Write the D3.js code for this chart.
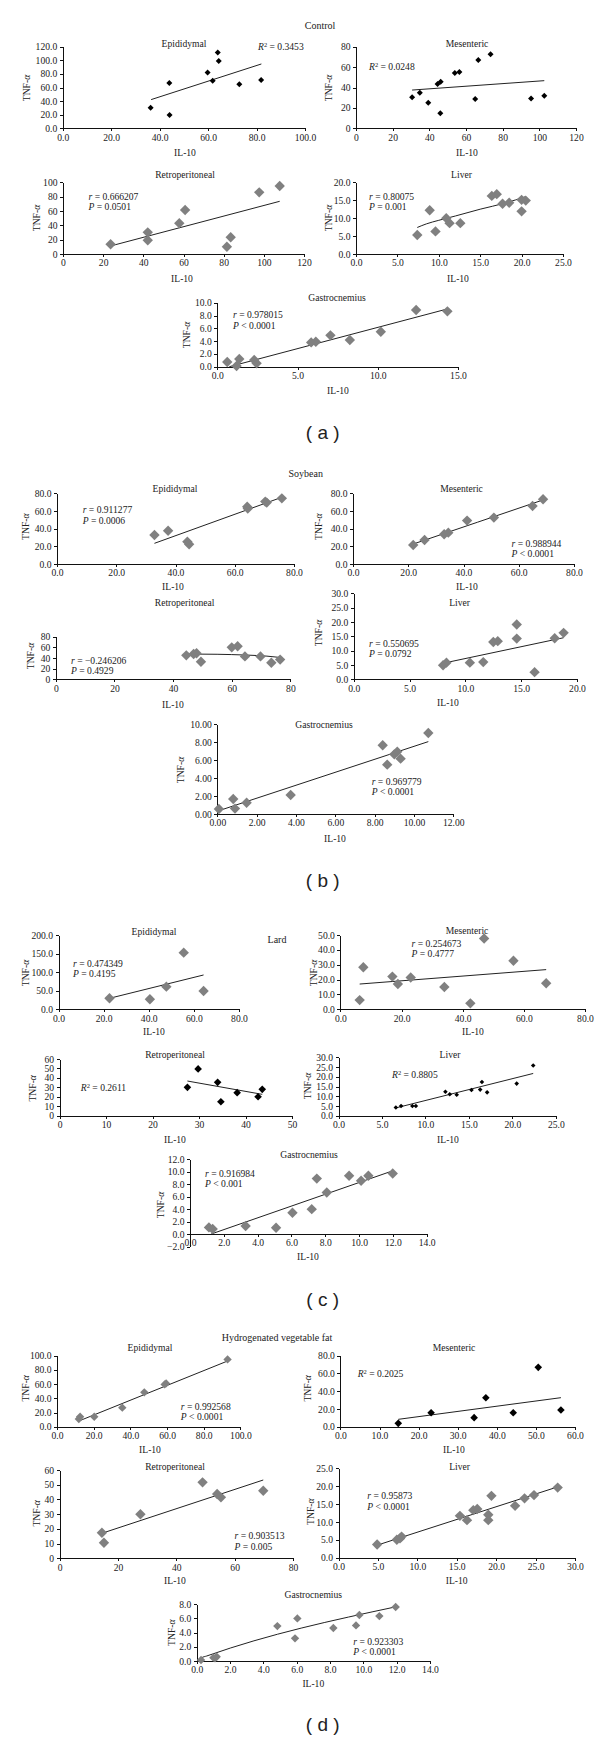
<!DOCTYPE html>
<html><head><meta charset="utf-8">
<script src="https://cdn.jsdelivr.net/npm/d3@7"></script>
<style>
body{margin:0;background:#fff}
svg{display:block}
text{font-family:"Liberation Serif","DejaVu Serif",serif;fill:#222}
</style>
</head><body>
<svg id="c" width="600" height="1741"></svg>
<script>
// ---------- tick label values ----------
const tk100by20 = [0,20,40,60,80,100];
const tk120by20 = [0,20,40,60,80,100,120];
const tk80by20  = [0,20,40,60,80];
const tk25by5   = [0,5,10,15,20,25];
const tk20by5   = [0,5,10,15,20];
const tk15by5   = [0,5,10,15];
const tk10by2   = [0,2,4,6,8,10];
const tk12by2   = [0,2,4,6,8,10,12];
const tk30by5   = [0,5,10,15,20,25,30];
const tk200by50 = [0,50,100,150,200];
const tk50by10  = [0,10,20,30,40,50];
const tk60by10  = [0,10,20,30,40,50,60];
const tk14by2   = [0,2,4,6,8,10,12,14];
const tkm2to12  = [-2,0,2,4,6,8,10,12];
const tk8by2    = [0,2,4,6,8];

// ---------- group / panel names ----------
const groups = ["Control","Soybean","Lard","Hydrogenated vegetable fat"];
const groupTags = ["( a )","( b )","( c )","( d )"];
const tissues = ["Epididymal","Mesenteric","Retroperitoneal","Liver","Gastrocnemius"];

// ---------- data: [IL-10, TNF-α] ----------
const ctrlEpi = [[36.3,30.4],[44.0,66.7],[44.1,19.6],[59.8,81.9],[61.9,70.1],[64.0,111.3],[64.4,99.0],[72.9,64.7],[81.9,71.1]];
const ctrlEpiFit = [[36.5,42.2],[82,94.6]];
const ctrlMes = [[30.6,30.4],[34.8,34.9],[39.4,25.1],[44.5,43.4],[46.2,45.7],[46.0,14.7],[53.9,54.2],[56.4,55.2],[65.0,28.7],[66.7,66.9],[73.4,72.5],[95.5,29.1],[102.7,32.0]];
const ctrlMesFit = [[30.6,37.5],[102.7,46.7]];
const ctrlRet = [[23.7,13.5],[42.2,30.2],[42.2,19.1],[57.9,42.8],[60.8,61.4],[81.6,10.2],[83.5,23.3],[97.7,86],[107.9,94.9]];
const ctrlRetFit = [[23.7,11.2],[107.9,73.5]];
const ctrlLiv = [[7.4,5.3],[8.9,12.2],[9.6,6.3],[10.9,10.0],[11.3,8.6],[12.6,8.6],[16.4,16.2],[17.0,16.7],[17.7,14.0],[18.5,14.3],[20.0,11.9],[20.0,15.1],[20.5,14.9]];
const ctrlLivFit = [[7.4,7.4],[8.5,8.4],[10,9.4],[12,10.6],[15,12.5],[18,14.2],[20.5,16.0]];
const ctrlGas = [[0.62,0.73],[1.2,0.1],[1.37,1.2],[2.3,1.04],[2.45,0.52],[5.85,3.8],[6.14,3.9],[7.05,4.9],[8.26,4.17],[10.19,5.47],[12.39,8.85],[14.34,8.65]];
const ctrlGasFit = [[0.75,0.0],[14.3,9.0]];

const soyEpi = [[32.9,32.8],[37.5,37.7],[44.0,25.3],[44.6,22.3],[64.2,64.9],[64.4,62.8],[70.3,70.6],[70.8,69.5],[75.9,74.3]];
const soyEpiFit = [[32.9,23.4],[75.9,75.5]];
const soyMes = [[21.8,21.5],[25.9,27.2],[33.0,33.6],[34.5,35.5],[41.3,49.1],[51.0,52.5],[65.0,65.7],[68.8,73.2]];
const soyMesFit = [[21.8,22.6],[45,47.2],[68.8,72.5]];
const soyRet = [[44.5,45],[47,47.5],[48,49],[49.5,33],[60,60],[62,62],[64.5,43],[69.8,43],[73.5,31],[76.5,37]];
const soyRetFit = [[44.5,47.5],[55,47],[65,45.5],[72,43.5],[76.5,41]];
const soyLiv = [[8.0,4.9],[8.3,5.8],[10.4,5.8],[11.6,6.0],[12.5,13.0],[12.9,13.3],[14.6,14.2],[14.6,19.1],[16.2,2.5],[18.0,14.3],[18.8,16.2]];
const soyLivFit = [[8,5.6],[18.8,14.5]];
const soyGas = [[0.08,0.56],[0.81,1.67],[0.9,0.6],[1.49,1.26],[3.73,2.12],[8.41,7.66],[8.64,5.5],[9.0,6.65],[9.15,6.95],[9.32,6.17],[10.73,9.03]];
const soyGasFit = [[0.08,0.37],[10.73,8.07]];

const lardEpi = [[22.6,29.6],[40.5,26.9],[47.8,61],[55.5,152.5],[64.3,49.3]];
const lardEpiFit = [[22.6,29.6],[64.3,92.4]];
const lardMes = [[6.3,6.2],[7.5,28.3],[17,22],[18.8,17],[23,21.4],[34,15],[42.5,4],[47,47.6],[56.6,32.7],[67.3,17.5]];
const lardMesFit = [[6.3,17],[67.3,26.7]];
const lardRet = [[27.5,30],[29.8,49.5],[34.0,35.3],[34.7,14.8],[38.2,24.4],[42.7,20.1],[43.6,27.9]];
const lardRetFit = [[27.5,36.7],[43.6,22.6]];
const lardLiv = [[6.6,4.2],[7.2,5.0],[8.5,5.0],[8.9,5.0],[12.3,12.3],[12.8,11.0],[13.6,10.8],[15.3,13.2],[16.3,13.4],[16.5,17.3],[17.1,12.0],[20.5,16.5],[22.4,25.8]];
const lardLivFit = [[6.6,4.0],[22.4,21.7]];
const lardGas = [[1.12,1.07],[1.34,0.8],[3.29,1.28],[5.09,1.02],[6.06,3.42],[7.2,4.0],[7.5,8.9],[8.09,6.68],[9.41,9.36],[10.12,8.56],[10.55,9.36],[11.99,9.73]];
const lardGasFit = [[1.25,0],[12.0,10.16]];

const hvfEpi = [[11.9,10.8],[12.6,14.1],[20.3,14.1],[35.6,26.8],[47.6,48.4],[58.7,59.6],[59.5,61],[93,94.8]];
const hvfEpiFit = [[11.9,8],[93,92.5]];
const hvfMes = [[14.8,3.8],[23.2,15.8],[34.2,10.2],[37.2,32.7],[44.2,15.8],[50.6,66.9],[56.4,18.8]];
const hvfMesFit = [[14.8,8.3],[56.4,32.7]];
const hvfRet = [[14.5,17.4],[15.2,10.6],[27.7,29.9],[49.0,51.6],[54.0,43.7],[55.3,41.4],[69.8,45.9]];
const hvfRetFit = [[14.5,17],[69.8,53.2]];
const hvfLiv = [[4.9,3.7],[7.4,5.0],[7.8,5.4],[8.0,5.9],[15.4,11.7],[16.3,10.5],[17.1,13.3],[17.6,13.6],[19.0,12.0],[19.0,10.5],[19.4,17.3],[22.4,14.5],[23.6,16.6],[24.8,17.5],[27.8,19.6]];
const hvfLivFit = [[4.9,3.5],[27.8,19.8]];
const hvfGas = [[0.26,0.14],[1.0,0.47],[1.1,0.37],[1.2,0.6],[4.84,4.9],[5.9,3.18],[6.04,5.98],[8.2,4.63],[9.56,5.0],[9.76,6.45],[10.96,6.3],[11.94,7.57]];
const hvfGasFit = [[0.2,0.05],[0.3,0.45],[0.6,0.7],[11.94,7.6]];

// ---------- statistics shown on panels ----------
const stats = {
  ctrlEpi:["R2 = 0.3453"], ctrlMes:["R2 = 0.0248"], ctrlRet:["r = 0.666207","P = 0.0501"],
  ctrlLiv:["r = 0.80075","P = 0.001"], ctrlGas:["r = 0.978015","P < 0.0001"],
  soyEpi:["r = 0.911277","P = 0.0006"], soyMes:["r = 0.988944","P < 0.0001"], soyRet:["r = \u22120.246206","P = 0.4929"],
  soyLiv:["r = 0.550695","P = 0.0792"], soyGas:["r = 0.969779","P < 0.0001"],
  lardEpi:["r = 0.474349","P = 0.4195"], lardMes:["r = 0.254673","P = 0.4777"], lardRet:["R2 = 0.2611"],
  lardLiv:["R2 = 0.8805"], lardGas:["r = 0.916984","P < 0.001"],
  hvfEpi:["r = 0.992568","P < 0.0001"], hvfMes:["R2 = 0.2025"], hvfRet:["r = 0.903513","P = 0.005"],
  hvfLiv:["r = 0.95873","P < 0.0001"], hvfGas:["r = 0.923303","P < 0.0001"]
};

// ---------- layout (pixel boxes, label positions, marker styles) ----------
const markers = {
  g:{fill:"#808080",r:5.2}, gm:{fill:"#808080",r:4.2}, b:{fill:"#000",r:3.8},
  bs:{fill:"#000",r:3.0}, bt:{fill:"#000",r:2.3}
};
const panels = [
 {k:"ctrlEpi",t:0,pts:ctrlEpi,fit:ctrlEpiFit,mk:"bs",xd:[0,100],xt:tk100by20,xf:".1f",yd:[0,120],yt:tk120by20,yf:".1f",box:[62.7,305,46.7,128.3],ttl:[184,44],st:[258,47],tnf:[27,88],il:[185,153]},
 {k:"ctrlMes",t:1,pts:ctrlMes,fit:ctrlMesFit,mk:"bs",xd:[0,120],xt:tk120by20,xf:"d",yd:[0,80],yt:tk80by20,yf:"d",box:[356,576,46.7,128.3],ttl:[467,44],st:[369,67],tnf:[329,88],il:[467,153]},
 {k:"ctrlRet",t:2,pts:ctrlRet,fit:ctrlRetFit,mk:"g",xd:[0,120],xt:tk120by20,xf:"d",yd:[0,100],yt:tk100by20,yf:"d",box:[63,304,182.3,254],ttl:[185,175],st:[88.5,196.7],tnf:[36.5,218],il:[182,278.3]},
 {k:"ctrlLiv",t:3,pts:ctrlLiv,fit:ctrlLivFit,mk:"g",xd:[0,25],xt:tk25by5,xf:".1f",yd:[0,20],yt:tk20by5,yf:".1f",box:[356,563,182.3,254],ttl:[461.5,175],st:[369,196.7],tnf:[329,218],il:[458,279]},
 {k:"ctrlGas",t:4,pts:ctrlGas,fit:ctrlGasFit,mk:"g",xd:[0,15],xt:tk15by5,xf:".1f",yd:[0,10],yt:tk10by2,yf:".1f",box:[217.3,458,302.7,366.7],ttl:[337,297.7],st:[233,315],tnf:[187,335],il:[338,390.7]},

 {k:"soyEpi",t:0,pts:soyEpi,fit:soyEpiFit,mk:"g",xd:[0,80],xt:tk80by20,xf:".1f",yd:[0,80],yt:tk80by20,yf:".1f",box:[57,294,493.3,564],ttl:[175,488.3],st:[82.7,510],tnf:[26,526.7],il:[173,587]},
 {k:"soyMes",t:1,pts:soyMes,fit:soyMesFit,mk:"g",xd:[0,80],xt:tk80by20,xf:".1f",yd:[0,80],yt:tk80by20,yf:".1f",box:[353,574,493.3,564],ttl:[461.5,488.3],st:[511.5,543.3],tnf:[319,526.7],il:[467,587]},
 {k:"soyRet",t:2,pts:soyRet,fit:soyRetFit,mk:"g",xd:[0,80],xt:tk80by20,xf:"d",yd:[0,80],yt:tk80by20,yf:"d",box:[55.8,290.4,636.7,679.3],ttl:[184.6,602.7],st:[71,660.7],tnf:[30.8,656],il:[173,705]},
 {k:"soyLiv",t:3,pts:soyLiv,fit:soyLivFit,mk:"g",xd:[0,20],xt:tk20by5,xf:".1f",yd:[0,30],yt:tk30by5,yf:".1f",box:[353.8,577,593.3,679.3],ttl:[459.6,602.7],st:[369,643.3],tnf:[318.5,633],il:[448,703]},
 {k:"soyGas",t:4,pts:soyGas,fit:soyGasFit,mk:"g",xd:[0,12],xt:tk12by2,xf:".2f",yd:[0,10],yt:tk10by2,yf:".2f",box:[217.3,453.3,724.3,814],ttl:[324,724.3],st:[371.7,781.7],tnf:[181,770],il:[335,838.3]},

 {k:"lardEpi",t:0,pts:lardEpi,fit:lardEpiFit,mk:"g",xd:[0,80],xt:tk80by20,xf:".1f",yd:[0,200],yt:tk200by50,yf:".1f",box:[58.5,239,935,1009.3],ttl:[154,931.7],st:[73,963.3],tnf:[26,973],il:[154,1031.7]},
 {k:"lardMes",t:1,pts:lardMes,fit:lardMesFit,mk:"g",xd:[0,80],xt:tk80by20,xf:".1f",yd:[0,50],yt:tk50by10,yf:".1f",box:[340.4,585,935,1009.3],ttl:[467,930.7],st:[411.5,943.3],tnf:[313.5,973],il:[473,1031.7]},
 {k:"lardRet",t:2,pts:lardRet,fit:lardRetFit,mk:"b",xd:[0,50],xt:tk50by10,xf:"d",yd:[0,60],yt:tk60by10,yf:"d",box:[59.6,292,1059,1115.7],ttl:[175,1055],st:[80.8,1087.7],tnf:[32.7,1088.3],il:[175,1140]},
 {k:"lardLiv",t:3,pts:lardLiv,fit:lardLivFit,mk:"bt",xd:[0,25],xt:tk25by5,xf:".1f",yd:[0,30],yt:tk30by5,yf:".1f",box:[338.5,555.8,1057.3,1115.7],ttl:[450,1055],st:[392,1074.3],tnf:[307.7,1086],il:[448,1140]},
 {k:"lardGas",t:4,pts:lardGas,fit:lardGasFit,mk:"g",xd:[0,14],xt:tk14by2,xf:".1f",yd:[-2,12],yt:tkm2to12,yf:".1f",xAt:0,box:[190,426.7,1159.3,1246.5],ttl:[309,1154.3],st:[205,1173.3],tnf:[161,1205],il:[308,1256.7]},

 {k:"hvfEpi",t:0,pts:hvfEpi,fit:hvfEpiFit,mk:"gm",xd:[0,100],xt:tk100by20,xf:".1f",yd:[0,100],yt:tk100by20,yf:".1f",box:[57,240.4,1355.7,1426.7],ttl:[150,1347.7],st:[180.8,1406.7],tnf:[26,1388.3],il:[150,1449.3]},
 {k:"hvfMes",t:1,pts:hvfMes,fit:hvfMesFit,mk:"b",xd:[0,60],xt:tk60by10,xf:".1f",yd:[0,80],yt:tk80by20,yf:".1f",box:[340.4,575,1355.7,1426.7],ttl:[454,1347.7],st:[357.7,1374],tnf:[307.7,1388.3],il:[454,1449.3]},
 {k:"hvfRet",t:2,pts:hvfRet,fit:hvfRetFit,mk:"g",xd:[0,80],xt:tk80by20,xf:"d",yd:[0,60],yt:tk60by10,yf:"d",box:[59.6,293,1470,1558.3],ttl:[175,1466.7],st:[234.6,1536],tnf:[36.5,1513.3],il:[175,1580.7]},
 {k:"hvfLiv",t:3,pts:hvfLiv,fit:hvfLivFit,mk:"g",xd:[0,30],xt:tk30by5,xf:".1f",yd:[0,25],yt:tk25by5,yf:".1f",box:[338.5,575,1468.3,1557.7],ttl:[459.6,1466.7],st:[367.3,1496],tnf:[310.8,1511.7],il:[456.7,1580.7]},
 {k:"hvfGas",t:4,pts:hvfGas,fit:hvfGasFit,mk:"gm",xd:[0,14],xt:tk14by2,xf:".1f",yd:[0,8],yt:tk8by2,yf:".1f",box:[196.7,430,1604,1661],ttl:[313.3,1594.3],st:[353.3,1641.7],tnf:[171.7,1632.7],il:[313.3,1684]}
];
const groupTitlePos = [[320,25],[305.8,473.3],[277,939.3],[277,1337]];
const groupTagPos = [[322.7,432.7],[322.7,880],[322.7,1299.3],[322.7,1724.3]];

// ---------- drawing ----------
const svg = d3.select("#c");
const FS = 9.6;
const diamond = { draw(ctx, size){ const r = Math.sqrt(size/2); ctx.moveTo(0,-r); ctx.lineTo(r,0); ctx.lineTo(0,r); ctx.lineTo(-r,0); ctx.closePath(); } };

function styleAxis(g){
  g.selectAll("path.domain").attr("stroke","#111").attr("stroke-width",1).attr("shape-rendering","crispEdges");
  g.selectAll(".tick line").attr("stroke","#111").attr("shape-rendering","crispEdges");
  g.selectAll(".tick text").attr("font-family","'Liberation Serif',serif").attr("font-size",FS).attr("fill","#222");
  g.attr("font-family",null).attr("font-size",null);
}

function statText(g, lines, x, y){
  lines.forEach((ln,i)=>{
    const t = g.append("text").attr("x",x).attr("y",y+i*10.3).attr("dy","0.35em").attr("font-size",FS);
    if (ln.startsWith("R2")){
      t.append("tspan").attr("font-style","italic").text("R");
      t.append("tspan").attr("font-size",6.5).attr("baseline-shift","super").text("2");
      t.append("tspan").text(ln.slice(2));
    } else {
      t.append("tspan").attr("font-style","italic").text(ln[0]);
      t.append("tspan").text(ln.slice(1));
    }
  });
}

panels.forEach(p=>{
  const [x0,x1,yT,yB] = p.box;
  const x = d3.scaleLinear().domain(p.xd).range([x0,x1]);
  const y = d3.scaleLinear().domain(p.yd).range([yB,yT]);
  const g = svg.append("g").attr("class","panel "+p.k);

  const xAxisY = y(p.xAt !== undefined ? p.xAt : p.yd[0]);
  const gx = g.append("g").attr("transform",`translate(0,${xAxisY})`)
    .call(d3.axisBottom(x).tickValues(p.xt).tickFormat(d3.format(p.xf)).tickSize(3).tickSizeOuter(0).tickPadding(2.5));
  styleAxis(gx);
  const gy = g.append("g").attr("transform",`translate(${x0},0)`)
    .call(d3.axisLeft(y).tickValues(p.yt).tickFormat(d3.format(p.yf)).tickSize(3).tickSizeOuter(0).tickPadding(2.5));
  styleAxis(gy);

  g.append("path").datum(p.fit)
    .attr("d", d3.line().x(d=>x(d[0])).y(d=>y(d[1])).curve(p.fit.length>2 ? d3.curveMonotoneX : d3.curveLinear))
    .attr("fill","none").attr("stroke","#222").attr("stroke-width",1);

  const m = markers[p.mk];
  g.selectAll("path.pt").data(p.pts).join("path").attr("class","pt")
    .attr("transform",d=>`translate(${x(d[0])},${y(d[1])})`)
    .attr("d", d3.symbol().type(diamond).size(2*m.r*m.r))
    .attr("fill",m.fill);

  g.append("text").attr("x",p.ttl[0]).attr("y",p.ttl[1]).attr("dy","0.35em").attr("text-anchor","middle").attr("font-size",FS).text(tissues[p.t]);
  statText(g, stats[p.k], p.st[0], p.st[1]);
  const ty = g.append("text").attr("transform",`translate(${p.tnf[0]},${p.tnf[1]}) rotate(-90)`).attr("text-anchor","middle").attr("dy","0.35em").attr("font-size",FS);
  ty.append("tspan").text("TNF-");
  ty.append("tspan").attr("font-style","italic").text("\u03b1");
  g.append("text").attr("x",p.il[0]).attr("y",p.il[1]).attr("dy","0.35em").attr("text-anchor","middle").attr("font-size",FS).text("IL-10");
});

groups.forEach((name,i)=>{
  svg.append("text").attr("x",groupTitlePos[i][0]).attr("y",groupTitlePos[i][1]).attr("dy","0.35em")
    .attr("text-anchor","middle").attr("font-size",10).text(name);
  svg.append("text").attr("x",groupTagPos[i][0]).attr("y",groupTagPos[i][1]).attr("dy","0.35em")
    .attr("text-anchor","middle").attr("font-size",19).style("font-family","'Liberation Sans',Arial,sans-serif").attr("fill","#111").text(groupTags[i]);
});
</script>
</body></html>
